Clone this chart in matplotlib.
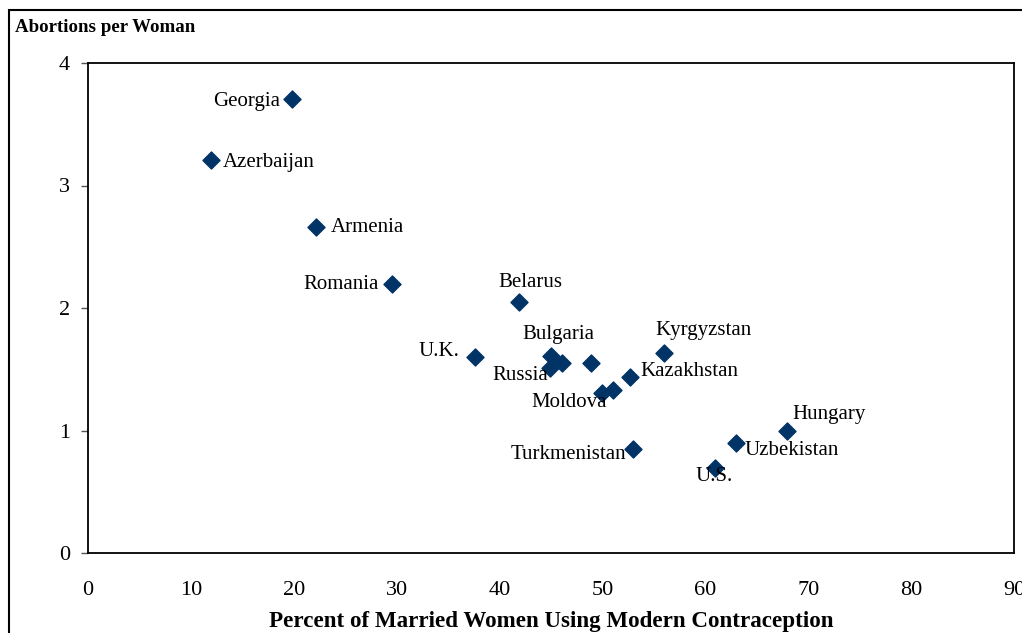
import matplotlib.pyplot as plt
from matplotlib.patches import Rectangle

# data
countries = ['Georgia', 'Azerbaijan', 'Armenia', 'Romania', 'Belarus', 'U.K.',
             'Bulgaria', 'Russia', '', '', 'Kazakhstan', 'Moldova', '',
             'Kyrgyzstan', 'Turkmenistan', 'Hungary', 'Uzbekistan', 'U.S.']
contraception = [19.8, 12.0, 22.2, 29.5, 41.9, 37.6,
                 45.0, 44.9, 46.1, 48.9, 52.7, 50.0, 51.0,
                 56.0, 53.0, 67.9, 63.0, 60.9]
abortions = [3.71, 3.21, 2.66, 2.20, 2.05, 1.60,
             1.61, 1.51, 1.55, 1.55, 1.44, 1.31, 1.33,
             1.63, 0.85, 1.00, 0.90, 0.69]

x_ticks = [0, 10, 20, 30, 40, 50, 60, 70, 80, 90]
y_ticks = [0, 1, 2, 3, 4]

# label placement (pixel offsets from the marker, alignment)
label_pos = {
    'Georgia': (-12, -3, 'right'),
    'Azerbaijan': (11, -3, 'left'),
    'Armenia': (14, 0, 'left'),
    'Romania': (-13, -1, 'right'),
    'Belarus': (11, 19, 'center'),
    'U.K.': (-15, 5, 'right'),
    'Bulgaria': (7, 21, 'center'),
    'Russia': (-30, -7, 'center'),
    'Kazakhstan': (10, 5, 'left'),
    'Moldova': (-33, -10, 'center'),
    'Kyrgyzstan': (39, 23, 'center'),
    'Turkmenistan': (-7, -6, 'right'),
    'Hungary': (6, 16, 'left'),
    'Uzbekistan': (8, -8, 'left'),
    'U.S.': (0, -8, 'center'),
}

plt.rcParams['font.family'] = ['Liberation Serif', 'DejaVu Serif']

fig = plt.figure(figsize=(10.22, 6.33), dpi=100)
ax = fig.add_axes([88 / 1022, 1 - 553 / 633, (1014 - 88) / 1022, (553 - 63) / 633])

# outer frame around the chart
fig.patches.append(Rectangle((9 / 1022, -0.1), 1.2, 1 - 10 / 633 + 0.1,
                             transform=fig.transFigure, fill=False,
                             edgecolor='black', linewidth=1.5))

ax.scatter(contraception, abortions, marker='D', s=75, color='#003366', zorder=3)

for name, x, y in zip(countries, contraception, abortions):
    if not name:
        continue
    dx, dy, ha = label_pos[name]
    ax.annotate(name, (x, y), xytext=(dx, dy), textcoords='offset pixels',
                ha=ha, va='center', fontsize=15)

ax.set_xlim(0, 90)
ax.set_ylim(0, 4)
ax.set_xticks(x_ticks)
ax.set_yticks(y_ticks)
ax.tick_params(axis='both', labelsize=16, length=5, width=1, color='#555555')
ax.tick_params(axis='x', length=0, pad=20)
ax.tick_params(axis='y', pad=8)
for s in ax.spines.values():
    s.set_linewidth(1.3)

ax.set_xlabel('Percent of Married Women Using Modern Contraception',
              fontsize=16.6, fontweight='bold', labelpad=8)
fig.text(15 / 1022, 1 - 27 / 633, 'Abortions per Woman', fontsize=13.6,
         fontweight='bold', va='center', ha='left')

fig.savefig('out.png', dpi=100)
